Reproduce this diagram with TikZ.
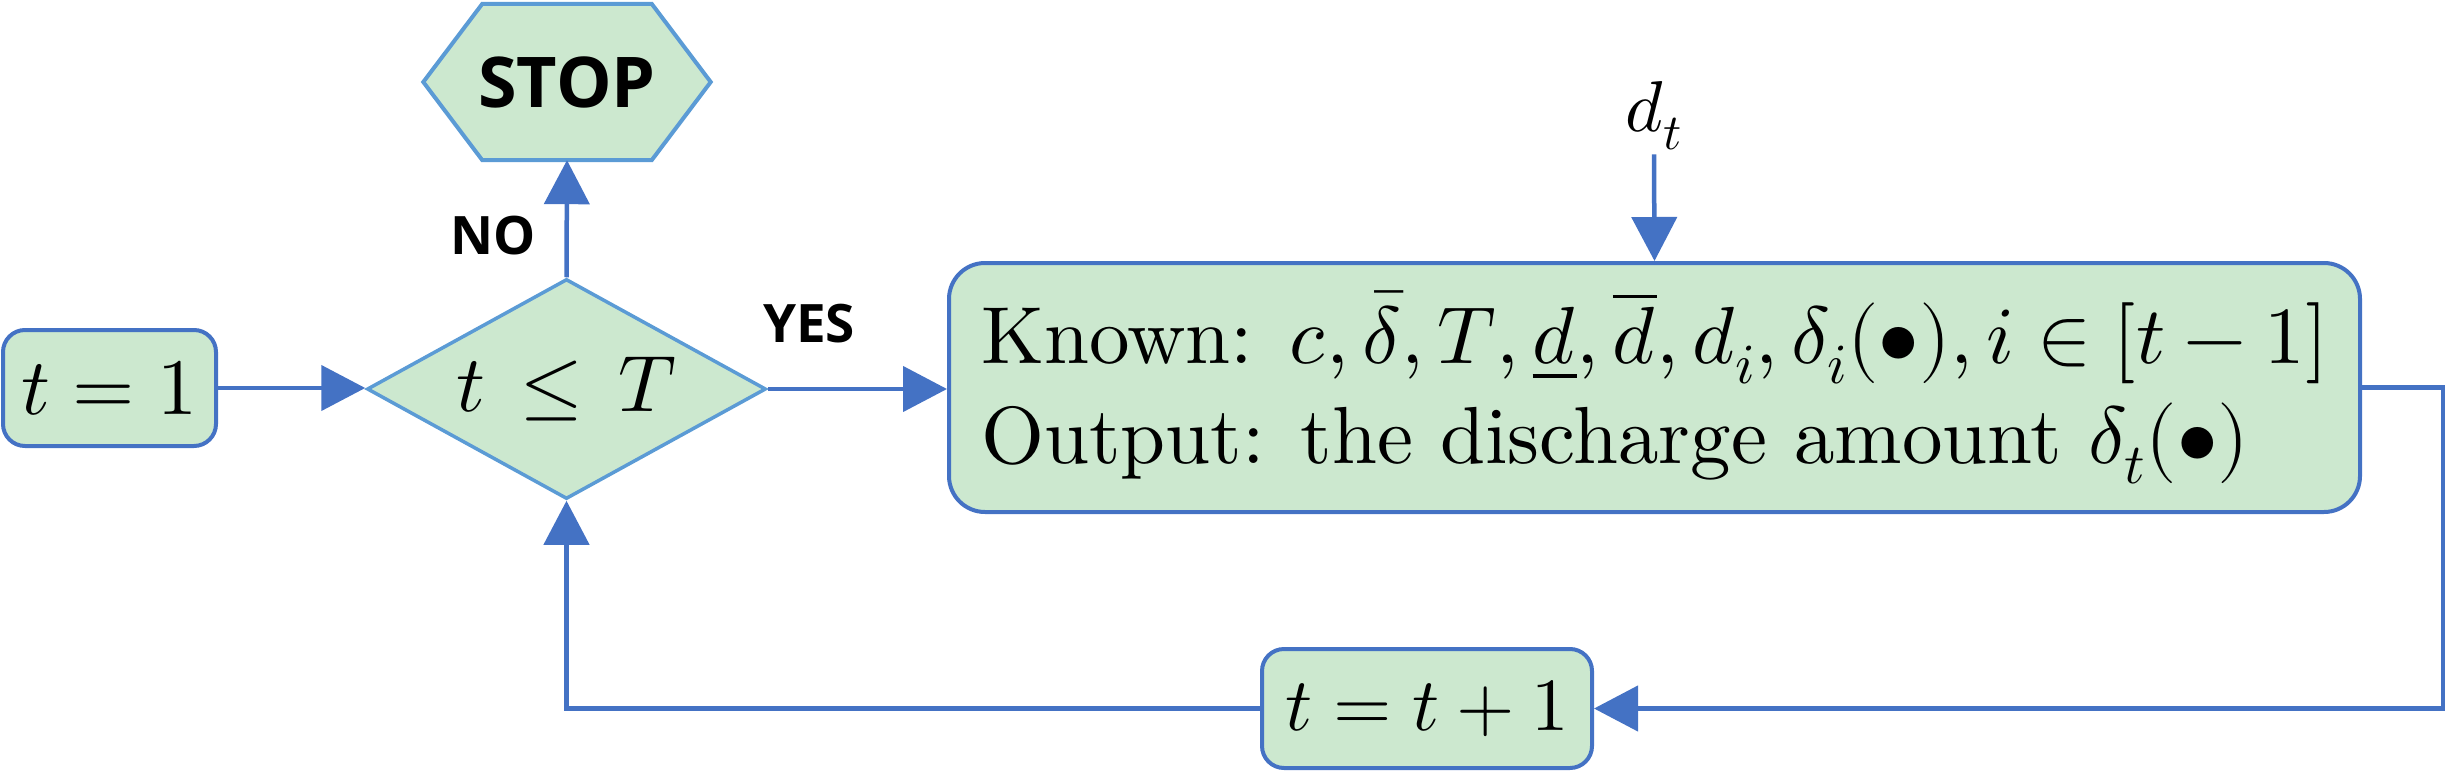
\documentclass[tikz,border=0pt]{standalone}
\usepackage{fontspec}
\usepackage{unicode-math}
\setmainfont{lmroman10-regular.otf}
\setmathfont{Latin Modern Math}
\newfontfamily\labelfont{Open Sans}
\usetikzlibrary{arrows.meta,shapes.geometric,backgrounds}
\definecolor{fillg}{RGB}{204,232,207}
\definecolor{boxblue}{RGB}{68,114,196}
\definecolor{lightblue}{RGB}{91,155,213}
\tikzset{
  rbox/.style={draw=boxblue, fill=fillg, line width=4pt, rounded corners=22pt, inner sep=0pt},
  dia/.style={diamond, draw=lightblue, fill=fillg, line width=3.5pt, inner sep=0pt, aspect=1.8},
  hexline/.style={draw=lightblue, fill=fillg, line width=4pt, line join=miter},
  conn/.style={draw=boxblue, line width=4.5pt, -{Triangle[length=44pt,width=45pt]}},
  lab/.style={font=\labelfont\bfseries\fontsize{53}{60}\selectfont, inner sep=0pt},
  mtext/.style={font=\fontsize{80}{96}\selectfont},
}
\begin{document}
\begin{tikzpicture}[x=1pt,y=-1pt]
\useasboundingbox (0,0) rectangle (2447,771);
% nodes
\node[rbox, minimum width=213pt, minimum height=116pt, mtext] (t1) at (109.5,388) {$t=1$};
\node[dia, minimum width=399pt, minimum height=220pt, mtext] (dia) at (566.5,389) {$t\,\leq\,T$};
\node[inner sep=0pt, minimum width=287pt, minimum height=156pt, font=\labelfont\bfseries\fontsize{70}{80}\selectfont] (stop) at (567,82) {STOP};
\begin{scope}[on background layer]
\path[hexline] (stop.west) -- ([xshift=59pt]stop.north west) -- ([xshift=-59pt]stop.north east) -- (stop.east) -- ([xshift=-59pt]stop.south east) -- ([xshift=59pt]stop.south west) -- cycle;
\end{scope}
\node[rbox, rounded corners=36pt, minimum width=1411pt, minimum height=249pt, align=left, font=\fontsize{81}{100}\selectfont] (big) at (1654.5,387.5)
  {Known: $c,\bar{\delta},T,\underline{d},\overline{d},d_i,\delta_i(\bullet),i\in[t-1]$\\
   Output: the discharge amount $\delta_t(\bullet)$};
\node[rbox, minimum width=330pt, minimum height=119pt, font=\fontsize{75}{90}\selectfont] (tp) at (1427,708.5) {$t=t+1$};
\node[inner sep=4pt, font=\fontsize{72}{80}\selectfont] (dt) at (1654,116) {$d_t$};
\node[lab] (no) at (493,236) {NO};
\node[lab] (yes) at (809,324) {YES};
% connectors
\draw[conn] (t1.east) -- (t1.east -| dia.west);
\draw[conn] (dia.north) -- (stop.south);
\draw[conn] (dia.east) -- (dia.east -| big.west);
\draw[conn] (dt.south) -- (big.north);
\draw[conn] (big.east) -- ++(81,0) |- (tp.east);
\draw[conn] (tp.west) -| (dia.south);
\end{tikzpicture}
\end{document}
